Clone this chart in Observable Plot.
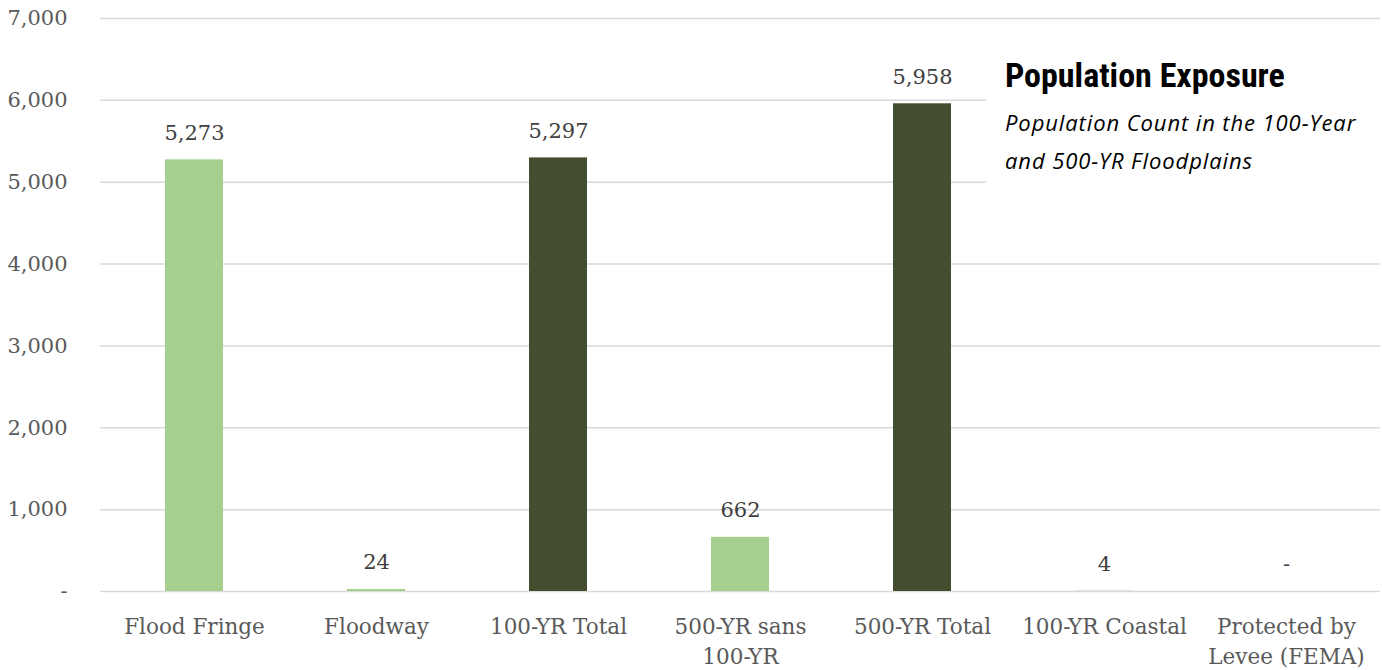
<!DOCTYPE html>
<html>
<head>
<meta charset="utf-8">
<script src="https://cdn.jsdelivr.net/npm/d3@7"></script>
<script src="https://cdn.jsdelivr.net/npm/@observablehq/plot@0.6"></script>
<style>
  html, body { margin: 0; padding: 0; background: #fff; }
  #wrap { position: relative; width: 1382px; height: 670px; overflow: hidden; }
  #titlebox { position: absolute; left: 986px; top: 52px; width: 396px; height: 140px; background: #fff; }
  #title { position: absolute; left: 19px; top: 3px; font-family: "Liberation Sans Narrow", "Roboto Condensed", Roboto, sans-serif; font-weight: bold; font-size: 34px; color: #000; white-space: nowrap; }
  #subtitle { position: absolute; left: 19px; top: 51px; font-family: "Open Sans", Lato, sans-serif; font-style: italic; font-size: 22px; letter-spacing: 0.9px; line-height: 38px; color: #000; white-space: nowrap; }
</style>
</head>
<body>
<div id="wrap">
  <div id="chart"></div>
  <div id="titlebox">
    <div id="title">Population Exposure</div>
    <div id="subtitle">Population Count in the 100-Year<br>and 500-YR Floodplains</div>
  </div>
</div>
<script>
const categories = ["Flood Fringe", "Floodway", "100-YR Total", "500-YR sans\n100-YR", "500-YR Total", "100-YR Coastal", "Protected by\nLevee (FEMA)"];
const values = [5273, 24, 5297, 662, 5958, 4, 0];
const groups = ["part", "part", "total", "part", "total", "part", "part"];
const yTicks = [0, 1000, 2000, 3000, 4000, 5000, 6000, 7000];

const data = categories.map((c, i) => ({category: c, value: values[i], group: groups[i]}));
const fmt = d => d === 0 ? "-" : d3.format(",")(d);
const font = "'DejaVu Serif', serif";

const chart = Plot.plot({
  width: 1382,
  height: 670,
  marginLeft: 100,
  marginRight: 2,
  marginTop: 18,
  marginBottom: 79,
  style: {fontFamily: font, background: "#fff"},
  x: {domain: categories, paddingInner: 0.68, paddingOuter: 0.34, label: null},
  y: {domain: [0, 7000], label: null},
  color: {domain: ["part", "total"], range: ["#a4cf8f", "#424e2e"]},
  marks: [
    Plot.ruleY(yTicks, {stroke: "#d9d9d9", strokeWidth: 1.5}),
    Plot.barY(data, {x: "category", y: "value", fill: "group"}),
    Plot.text(data, {x: "category", y: "value", text: d => fmt(d.value), dy: -27, fontSize: 21, fill: "#404040"}),
    Plot.axisY({ticks: yTicks, tickSize: 0, tickPadding: 33, tickFormat: fmt, fontSize: 21, fill: "#595959", label: null}),
    Plot.axisX({tickSize: 0, tickPadding: 21, fontSize: 21.5, fill: "#595959", lineHeight: 1.4, label: null, textAnchor: "middle"})
  ]
});
document.getElementById("chart").appendChild(chart);
</script>
</body>
</html>
